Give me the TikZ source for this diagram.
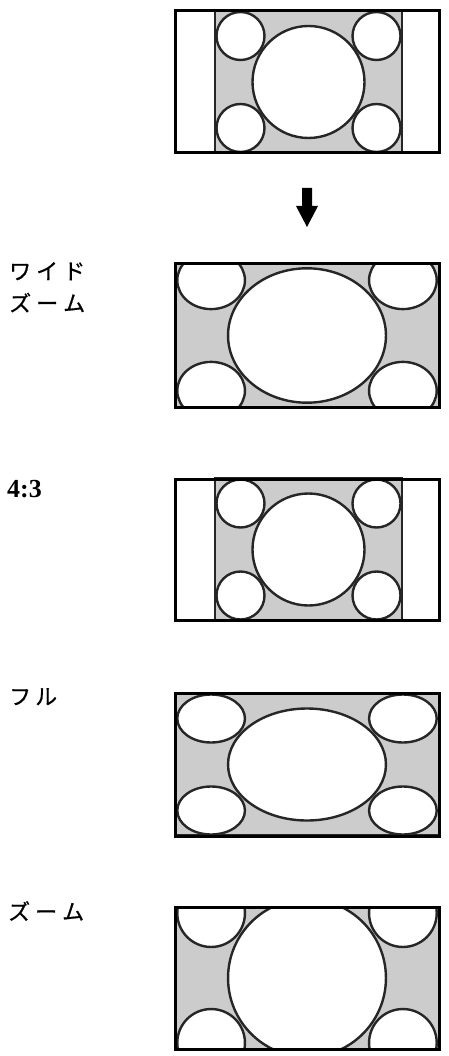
\documentclass[tikz,border=0pt]{standalone}
\usepackage{fontspec}
\newfontfamily\jpfont[FakeBold=0.7]{Noto Sans CJK JP}
\newfontfamily\numfont{Liberation Serif}

% one 4:3 test picture, centred on the origin
\newcommand{\tvscene}{%
    \draw[pane] (-93.5,-71) rectangle (93.5,71);
    \foreach \sx in {-1,1}
        \foreach \sy in {-1,1}
            \draw[disc] (\sx*68,\sy*46) circle (24);
    \draw[disc] (0,0) circle (56);
}

\begin{document}
\begin{tikzpicture}[x=1pt,y=-1pt,
    frame line/.style={draw,line width=3pt},
    pane/.style={fill=black!20,draw=black!85,line width=2.6pt},
    disc/.style={fill=white,draw=black!85,line width=2.4pt},
    main label/.style={inner sep=0pt,anchor=north west,font=\jpfont\fontsize{22}{32}\selectfont,align=left}]
    \useasboundingbox (0,0) rectangle (448,1056);

    % source picture
    \begin{scope}[shift={(308.5,82)}] \tvscene \end{scope}
    \draw[frame line] (175,11) rectangle (439,153);

    \fill (302,188) -- (312,188) -- (312,206) -- (318,206) -- (307,227) -- (296,206) -- (302,206) -- cycle;

    % wide zoom
    \begin{scope}
        \clip (175,264) rectangle (439,407);
        \begin{scope}[shift={(307,335.5)},xscale=1.41,yscale=1.2] \tvscene \end{scope}
    \end{scope}
    \draw[frame line] (175,264) rectangle (439,407);
    \node[main label] (wide) at (9,262) {ワ\kern5pt イ\kern5pt ド\\ズ\kern5pt ー\kern5pt ム};

    % 4:3
    \begin{scope}[shift={(308.5,549.5)}] \tvscene \end{scope}
    \draw[frame line] (175,479) rectangle (439,620);
    \node[inner sep=0pt,anchor=base west,font=\numfont\bfseries\fontsize{26}{30}\selectfont] (ratio) at (7,497) {4:3};

    % full
    \begin{scope}[shift={(307,764.5)},xscale=1.41] \tvscene \end{scope}
    \draw[frame line] (175,693) rectangle (439,836);
    \node[main label] (full) at (9,688) {フ\kern4pt ル};

    % zoom
    \begin{scope}
        \clip (175,907) rectangle (439,1049);
        \begin{scope}[shift={(307,978)},scale=1.41] \tvscene \end{scope}
    \end{scope}
    \draw[frame line] (175,907) rectangle (439,1049);
    \node[main label] (zoom) at (8,901) {ズ\kern5pt ー\kern5pt ム};
\end{tikzpicture}
\end{document}
